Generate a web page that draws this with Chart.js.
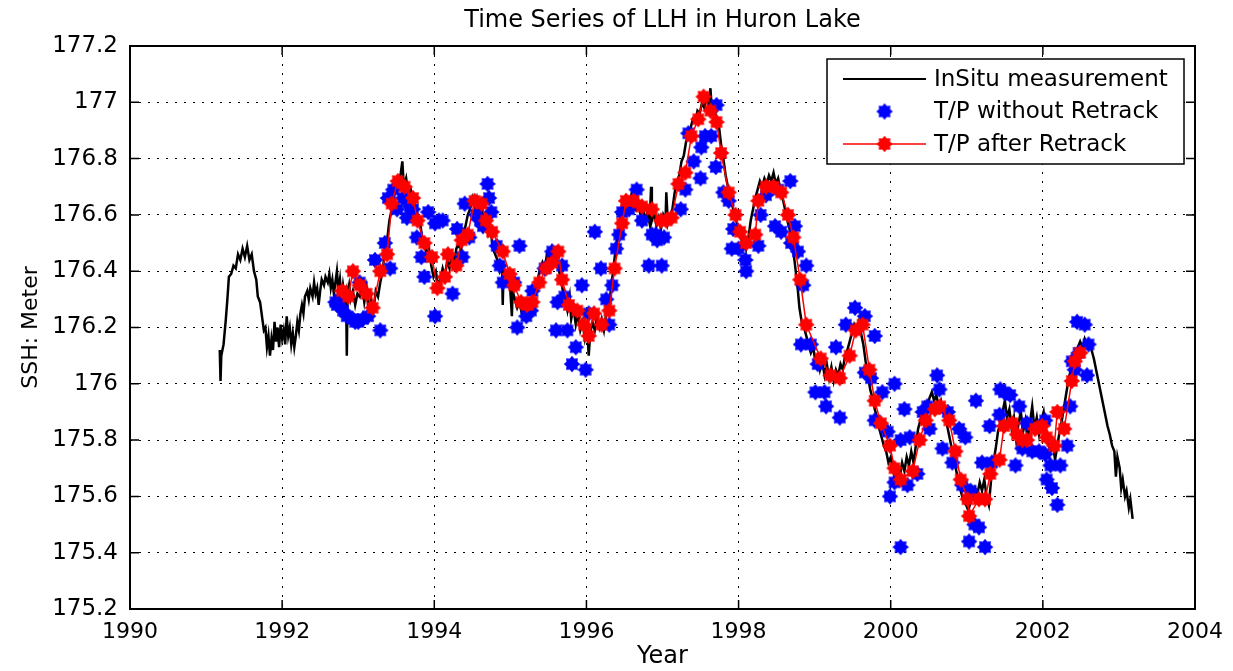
<!DOCTYPE html>
<html>
<head>
<meta charset="utf-8">
<title>Time Series of LLH in Huron Lake</title>
<script src="https://cdn.jsdelivr.net/npm/chart.js@4.4.0/dist/chart.umd.min.js"></script>
<style>
    html, body { margin: 0; padding: 0; background: #fff; }
    #wrap { width: 1233px; height: 671px; }
</style>
</head>
<body>
<div id="wrap"><canvas id="lakeChart"></canvas></div>
<script>
// Values: [decimal year, SSH in metres]
const inSitu = [
    [1991.18,176.12],[1991.19,176.01],[1991.20,176.10],[1991.23,176.14],[1991.26,176.23],[1991.28,176.30],
    [1991.30,176.38],[1991.33,176.39],[1991.36,176.42],[1991.39,176.41],[1991.42,176.46],[1991.45,176.44],
    [1991.48,176.48],[1991.51,176.45],[1991.54,176.49],[1991.57,176.44],[1991.60,176.46],[1991.63,176.40],
    [1991.66,176.37],[1991.68,176.31],[1991.71,176.29],[1991.74,176.23],[1991.76,176.19],[1991.78,176.20],
    [1991.80,176.13],[1991.82,176.17],[1991.84,176.10],[1991.86,176.16],[1991.88,176.12],[1991.90,176.22],
    [1991.92,176.15],[1991.94,176.20],[1991.96,176.13],[1991.98,176.21],[1992.00,176.16],[1992.02,176.19],
    [1992.04,176.14],[1992.06,176.24],[1992.08,176.17],[1992.10,176.20],[1992.12,176.14],[1992.14,176.18],
    [1992.16,176.13],[1992.18,176.17],[1992.20,176.22],[1992.22,176.19],[1992.24,176.25],[1992.26,176.28],
    [1992.28,176.25],[1992.30,176.31],[1992.33,176.33],[1992.35,176.30],[1992.37,176.34],[1992.40,176.31],
    [1992.42,176.36],[1992.44,176.32],[1992.46,176.34],[1992.48,176.28],[1992.50,176.33],[1992.52,176.37],
    [1992.55,176.35],[1992.57,176.38],[1992.60,176.36],[1992.62,176.39],[1992.64,176.34],[1992.66,176.37],
    [1992.68,176.32],[1992.70,176.36],[1992.72,176.40],[1992.74,176.33],[1992.76,176.37],[1992.78,176.30],
    [1992.80,176.35],[1992.82,176.31],[1992.84,176.33],[1992.85,176.10],[1992.86,176.32],[1992.88,176.35],
    [1992.90,176.30],[1992.93,176.33],[1992.96,176.28],[1992.99,176.32],[1993.02,176.31],[1993.05,176.35],
    [1993.08,176.29],[1993.11,176.34],[1993.14,176.25],[1993.17,176.30],[1993.20,176.26],[1993.23,176.33],
    [1993.26,176.31],[1993.29,176.36],[1993.32,176.40],[1993.35,176.47],[1993.38,176.51],[1993.41,176.58],
    [1993.44,176.62],[1993.47,176.66],[1993.50,176.72],[1993.53,176.70],[1993.56,176.75],[1993.58,176.79],
    [1993.60,176.70],[1993.63,176.73],[1993.66,176.67],[1993.69,176.69],[1993.72,176.64],[1993.75,176.62],
    [1993.78,176.57],[1993.81,176.58],[1993.84,176.52],[1993.87,176.50],[1993.90,176.46],[1993.93,176.48],
    [1993.96,176.42],[1993.99,176.38],[1994.02,176.40],[1994.05,176.35],[1994.08,176.37],[1994.11,176.41],
    [1994.14,176.38],[1994.17,176.44],[1994.20,176.41],[1994.23,176.46],[1994.26,176.43],[1994.29,176.48],
    [1994.32,176.50],[1994.35,176.47],[1994.38,176.53],[1994.41,176.56],[1994.44,176.60],[1994.47,176.62],
    [1994.50,176.66],[1994.53,176.63],[1994.56,176.66],[1994.59,176.62],[1994.62,176.64],[1994.65,176.58],
    [1994.68,176.57],[1994.71,176.53],[1994.74,176.55],[1994.77,176.48],[1994.80,176.46],[1994.83,176.44],
    [1994.86,176.40],[1994.89,176.42],[1994.90,176.28],[1994.91,176.40],[1994.94,176.36],[1994.97,176.38],
    [1995.00,176.33],[1995.02,176.24],[1995.03,176.33],[1995.06,176.30],[1995.09,176.27],[1995.12,176.29],
    [1995.15,176.25],[1995.18,176.28],[1995.21,176.24],[1995.24,176.29],[1995.27,176.27],[1995.30,176.32],
    [1995.33,176.35],[1995.36,176.37],[1995.39,176.41],[1995.42,176.43],[1995.45,176.40],[1995.48,176.46],
    [1995.51,176.44],[1995.54,176.48],[1995.57,176.45],[1995.60,176.46],[1995.63,176.41],[1995.66,176.38],
    [1995.69,176.33],[1995.72,176.30],[1995.75,176.26],[1995.78,176.31],[1995.80,176.23],[1995.83,176.27],
    [1995.86,176.21],[1995.89,176.25],[1995.92,176.19],[1995.95,176.22],[1995.98,176.16],[1996.01,176.20],
    [1996.03,176.10],[1996.05,176.18],[1996.08,176.22],[1996.11,176.19],[1996.14,176.24],[1996.17,176.20],
    [1996.20,176.23],[1996.23,176.19],[1996.26,176.25],[1996.29,176.27],[1996.32,176.33],[1996.35,176.40],
    [1996.38,176.47],[1996.41,176.53],[1996.44,176.58],[1996.47,176.62],[1996.50,176.64],[1996.53,176.66],
    [1996.56,176.63],[1996.59,176.67],[1996.62,176.64],[1996.65,176.62],[1996.68,176.65],[1996.71,176.60],
    [1996.74,176.63],[1996.77,176.58],[1996.80,176.61],[1996.83,176.57],[1996.85,176.70],[1996.86,176.58],
    [1996.89,176.61],[1996.92,176.56],[1996.95,176.59],[1996.98,176.55],[1997.01,176.60],[1997.04,176.58],
    [1997.05,176.68],[1997.07,176.57],[1997.10,176.60],[1997.13,176.62],[1997.16,176.68],[1997.19,176.72],
    [1997.22,176.74],[1997.25,176.79],[1997.28,176.81],[1997.31,176.86],[1997.34,176.88],[1997.37,176.91],
    [1997.40,176.94],[1997.43,176.93],[1997.46,176.97],[1997.49,176.96],[1997.52,177.00],[1997.55,176.98],
    [1997.58,177.02],[1997.61,176.99],[1997.63,177.05],[1997.65,176.97],[1997.68,176.98],[1997.71,176.94],
    [1997.74,176.92],[1997.77,176.85],[1997.80,176.80],[1997.83,176.74],[1997.86,176.70],[1997.89,176.66],
    [1997.92,176.63],[1997.95,176.60],[1997.98,176.57],[1998.01,176.55],[1998.04,176.51],[1998.07,176.53],
    [1998.10,176.48],[1998.13,176.52],[1998.16,176.58],[1998.19,176.62],[1998.22,176.66],[1998.25,176.69],
    [1998.28,176.72],[1998.31,176.70],[1998.34,176.73],[1998.37,176.71],[1998.40,176.74],[1998.43,176.72],
    [1998.46,176.75],[1998.49,176.71],[1998.52,176.73],[1998.55,176.69],[1998.58,176.66],[1998.61,176.62],
    [1998.64,176.58],[1998.67,176.55],[1998.70,176.50],[1998.73,176.45],[1998.76,176.38],[1998.78,176.33],
    [1998.80,176.27],[1998.83,176.22],[1998.86,176.20],[1998.89,176.17],[1998.92,176.14],[1998.95,176.11],
    [1998.98,176.13],[1999.01,176.08],[1999.04,176.10],[1999.07,176.05],[1999.10,176.08],[1999.13,176.03],
    [1999.16,176.07],[1999.19,176.02],[1999.22,176.06],[1999.25,176.01],[1999.28,176.05],[1999.31,176.03],
    [1999.34,176.07],[1999.37,176.05],[1999.40,176.10],[1999.43,176.12],[1999.46,176.15],[1999.49,176.18],
    [1999.52,176.21],[1999.55,176.19],[1999.58,176.22],[1999.61,176.18],[1999.64,176.14],[1999.67,176.08],
    [1999.70,176.03],[1999.73,175.98],[1999.76,175.95],[1999.79,175.91],[1999.82,175.88],[1999.85,175.84],
    [1999.88,175.81],[1999.91,175.78],[1999.94,175.76],[1999.97,175.72],[2000.00,175.74],[2000.03,175.69],
    [2000.06,175.66],[2000.09,175.70],[2000.12,175.67],[2000.15,175.72],[2000.18,175.69],[2000.21,175.74],
    [2000.24,175.71],[2000.27,175.76],[2000.30,175.72],[2000.33,175.78],[2000.36,175.84],[2000.39,175.87],
    [2000.42,175.90],[2000.45,175.93],[2000.48,175.91],[2000.51,175.95],[2000.54,175.97],[2000.57,175.94],
    [2000.60,175.96],[2000.63,175.92],[2000.66,175.94],[2000.69,175.90],[2000.72,175.88],[2000.75,175.84],
    [2000.78,175.80],[2000.81,175.76],[2000.84,175.72],[2000.87,175.68],[2000.90,175.64],[2000.93,175.61],
    [2000.96,175.58],[2000.99,175.57],[2001.02,175.55],[2001.05,175.58],[2001.08,175.60],[2001.11,175.63],
    [2001.14,175.61],[2001.17,175.65],[2001.20,175.62],[2001.23,175.66],[2001.26,175.60],[2001.29,175.57],
    [2001.32,175.66],[2001.35,175.72],[2001.38,175.77],[2001.41,175.83],[2001.44,175.86],[2001.47,175.90],
    [2001.50,175.94],[2001.53,175.88],[2001.56,175.91],[2001.59,175.84],[2001.62,175.88],[2001.65,175.80],
    [2001.68,175.86],[2001.71,175.90],[2001.74,175.83],[2001.77,175.87],[2001.80,175.80],[2001.83,175.86],
    [2001.86,175.92],[2001.89,175.84],[2001.92,175.88],[2001.95,175.82],[2001.98,175.87],[2002.01,175.90],
    [2002.04,175.83],[2002.07,175.79],[2002.10,175.76],[2002.13,175.79],[2002.16,175.73],[2002.19,175.78],
    [2002.22,175.83],[2002.25,175.87],[2002.28,175.92],[2002.31,175.97],[2002.34,176.02],[2002.37,176.05],
    [2002.40,176.09],[2002.43,176.11],[2002.46,176.13],[2002.49,176.15],[2002.52,176.13],[2002.55,176.16],
    [2002.58,176.14],[2002.61,176.15],[2002.64,176.12],[2002.67,176.09],[2002.70,176.05],[2002.73,176.01],
    [2002.76,175.97],[2002.79,175.93],[2002.82,175.89],[2002.85,175.85],[2002.88,175.82],[2002.91,175.78],
    [2002.94,175.76],[2002.96,175.67],[2002.98,175.74],[2003.01,175.70],[2003.03,175.63],[2003.05,175.66],
    [2003.08,175.60],[2003.10,175.62],[2003.13,175.56],[2003.15,175.59],[2003.18,175.52]
];

const tpWithoutRetrack = [
    [1992.70,176.29],[1992.72,176.28],[1992.76,176.30],[1992.80,176.26],[1992.85,176.24],[1992.93,176.23],
    [1992.96,176.22],[1993.00,176.22],[1993.02,176.36],[1993.06,176.23],[1993.13,176.24],[1993.22,176.44],
    [1993.29,176.19],[1993.35,176.50],[1993.39,176.66],[1993.42,176.41],[1993.46,176.69],[1993.51,176.62],
    [1993.59,176.66],[1993.64,176.59],[1993.68,176.63],[1993.72,176.62],[1993.77,176.52],[1993.83,176.45],
    [1993.87,176.38],[1993.92,176.61],[1994.01,176.57],[1994.01,176.24],[1994.06,176.58],[1994.11,176.58],
    [1994.24,176.32],[1994.30,176.55],[1994.37,176.45],[1994.40,176.64],[1994.46,176.52],[1994.55,176.60],
    [1994.60,176.58],[1994.64,176.56],[1994.70,176.71],[1994.72,176.66],[1994.75,176.61],[1994.82,176.49],
    [1994.86,176.42],[1994.90,176.36],[1995.05,176.36],[1995.09,176.20],[1995.12,176.49],[1995.21,176.24],
    [1995.27,176.26],[1995.29,176.33],[1995.45,176.41],[1995.55,176.47],[1995.60,176.19],[1995.62,176.29],
    [1995.68,176.42],[1995.71,176.31],[1995.75,176.19],[1995.81,176.07],[1995.86,176.13],[1995.94,176.35],
    [1995.99,176.05],[1996.03,176.25],[1996.11,176.54],[1996.19,176.41],[1996.26,176.30],[1996.30,176.21],
    [1996.34,176.35],[1996.39,176.48],[1996.43,176.53],[1996.47,176.61],[1996.56,176.62],[1996.66,176.69],
    [1996.73,176.58],[1996.82,176.42],[1996.86,176.53],[1996.91,176.53],[1996.93,176.51],[1996.99,176.42],
    [1997.02,176.52],[1997.24,176.62],[1997.30,176.69],[1997.34,176.89],[1997.41,176.79],[1997.50,176.73],
    [1997.51,176.84],[1997.56,176.88],[1997.64,176.88],[1997.70,176.77],[1997.71,176.99],[1997.80,176.68],
    [1997.87,176.65],[1997.91,176.48],[1997.93,176.55],[1998.00,176.48],[1998.09,176.44],[1998.10,176.40],
    [1998.26,176.49],[1998.29,176.60],[1998.36,176.67],[1998.48,176.56],[1998.52,176.69],[1998.56,176.54],
    [1998.68,176.72],[1998.69,176.50],[1998.74,176.56],[1998.78,176.47],[1998.85,176.35],[1998.89,176.42],
    [1998.82,176.14],[1998.95,176.14],[1999.01,175.97],[1999.04,176.07],[1999.13,175.97],[1999.15,175.92],
    [1999.28,176.13],[1999.33,175.88],[1999.41,176.21],[1999.53,176.27],[1999.66,176.24],[1999.66,176.04],
    [1999.74,176.02],[1999.79,176.17],[1999.79,175.87],[1999.89,175.97],[1999.96,175.83],[1999.99,175.60],
    [2000.05,176.00],[2000.05,175.65],[2000.13,175.80],[2000.13,175.42],[2000.18,175.91],[2000.22,175.64],
    [2000.25,175.81],[2000.35,175.68],[2000.42,175.90],[2000.48,175.92],[2000.51,175.84],[2000.61,176.03],
    [2000.64,175.98],[2000.68,175.77],[2000.75,175.90],[2000.81,175.72],[2000.90,175.84],[2000.94,175.64],
    [2000.98,175.81],[2001.03,175.44],[2001.05,175.62],[2001.10,175.50],[2001.12,175.94],[2001.16,175.49],
    [2001.20,175.72],[2001.24,175.42],[2001.30,175.85],[2001.33,175.72],[2001.43,175.89],[2001.44,175.98],
    [2001.49,175.97],[2001.57,175.96],[2001.64,175.71],[2001.69,175.92],[2001.73,175.77],[2001.79,175.86],
    [2001.86,175.76],[2001.95,175.76],[2002.03,175.87],[2002.03,175.75],[2002.05,175.66],[2002.10,175.71],
    [2002.12,175.63],[2002.19,175.57],[2002.23,175.71],[2002.32,175.78],[2002.36,175.92],[2002.38,176.08],
    [2002.42,176.05],[2002.45,176.22],[2002.47,176.11],[2002.55,176.21],[2002.58,176.03],[2002.60,176.14]
];

const tpAfterRetrack = [
    [1992.79,176.33],[1992.87,176.31],[1992.93,176.40],[1993.02,176.35],[1993.11,176.32],[1993.19,176.27],
    [1993.29,176.40],[1993.38,176.46],[1993.44,176.64],[1993.52,176.72],[1993.61,176.70],[1993.72,176.66],
    [1993.78,176.58],[1993.87,176.50],[1993.97,176.45],[1994.04,176.34],[1994.14,176.38],[1994.18,176.46],
    [1994.29,176.42],[1994.36,176.51],[1994.44,176.53],[1994.53,176.65],[1994.62,176.64],[1994.68,176.58],
    [1994.76,176.54],[1994.90,176.47],[1994.99,176.39],[1995.05,176.35],[1995.14,176.29],[1995.22,176.28],
    [1995.29,176.29],[1995.38,176.36],[1995.47,176.41],[1995.55,176.43],[1995.63,176.47],[1995.68,176.37],
    [1995.77,176.28],[1995.88,176.26],[1995.97,176.21],[1996.03,176.17],[1996.10,176.25],[1996.20,176.21],
    [1996.30,176.26],[1996.37,176.41],[1996.47,176.57],[1996.52,176.65],[1996.62,176.65],[1996.73,176.63],
    [1996.86,176.62],[1996.98,176.58],[1997.05,176.58],[1997.12,176.59],[1997.21,176.71],[1997.30,176.75],
    [1997.38,176.88],[1997.47,176.94],[1997.54,177.02],[1997.63,176.97],[1997.71,176.93],[1997.77,176.82],
    [1997.87,176.68],[1997.96,176.60],[1998.02,176.54],[1998.10,176.50],[1998.22,176.53],[1998.26,176.65],
    [1998.36,176.70],[1998.46,176.70],[1998.56,176.68],[1998.65,176.60],[1998.72,176.52],[1998.81,176.37],
    [1998.89,176.21],[1999.08,176.09],[1999.21,176.03],[1999.33,176.02],[1999.46,176.10],[1999.54,176.19],
    [1999.63,176.21],[1999.72,176.05],[1999.79,175.94],[1999.87,175.86],[1999.99,175.78],[2000.05,175.70],
    [2000.13,175.66],[2000.29,175.69],[2000.38,175.80],[2000.46,175.87],[2000.58,175.91],[2000.65,175.92],
    [2000.77,175.87],[2000.85,175.76],[2000.92,175.66],[2001.01,175.59],[2001.03,175.53],[2001.16,175.59],
    [2001.24,175.59],[2001.31,175.68],[2001.43,175.73],[2001.49,175.85],[2001.60,175.86],[2001.66,175.82],
    [2001.73,175.80],[2001.79,175.80],[2001.90,175.84],[2001.99,175.85],[2002.05,175.81],[2002.15,175.78],
    [2002.19,175.90],[2002.28,175.84],[2002.38,176.01],[2002.42,176.08],[2002.49,176.11]
];

const seriesLabels = ['InSitu measurement', 'T/P without Retrack', 'T/P after Retrack'];
const chartTitle = 'Time Series of LLH in Huron Lake';
const xTitle = 'Year';
const yTitle = 'SSH: Meter';

const FONT = "'DejaVu Sans', sans-serif";
Chart.defaults.font.family = FONT;
Chart.defaults.color = '#000';

// Filled 8-point star, looks like the matlab '*' blob
function makeStarMarker(color) {
    const c = document.createElement('canvas');
    c.width = 18;
    c.height = 18;
    const g = c.getContext('2d');
    g.fillStyle = color;
    g.beginPath();
    for (let i = 0; i < 16; i++) {
        const r = i % 2 === 0 ? 8.3 : 6.0;
        const a = -Math.PI / 2 + i * Math.PI / 8;
        const px = 9 + r * Math.cos(a);
        const py = 9 + r * Math.sin(a);
        if (i === 0) g.moveTo(px, py); else g.lineTo(px, py);
    }
    g.closePath();
    g.fill();
    return c;
}

const blueStar = makeStarMarker('#0000ff');
const redStar = makeStarMarker('#ff0000');

function toPoints(arr) {
    return arr.map(p => ({ x: p[0], y: p[1] }));
}

// Frame round the axes with inward ticks on all four sides
const axesFrame = {
    id: 'axesFrame',
    afterDatasetsDraw(chart) {
        const { ctx, chartArea: a, scales } = chart;
        const tick = 9;
        ctx.save();
        ctx.strokeStyle = '#000';
        ctx.lineWidth = 1.5;
        ctx.beginPath();
        scales.x.ticks.forEach(t => {
            const px = scales.x.getPixelForValue(t.value);
            ctx.moveTo(px, a.bottom); ctx.lineTo(px, a.bottom - tick);
            ctx.moveTo(px, a.top); ctx.lineTo(px, a.top + tick);
        });
        scales.y.ticks.forEach(t => {
            const py = scales.y.getPixelForValue(t.value);
            ctx.moveTo(a.left, py); ctx.lineTo(a.left + tick, py);
            ctx.moveTo(a.right, py); ctx.lineTo(a.right - tick, py);
        });
        ctx.stroke();
        ctx.lineWidth = 2;
        ctx.strokeRect(a.left, a.top, a.right - a.left, a.bottom - a.top);
        ctx.restore();
    }
};

// Boxed legend in the upper right corner of the axes
const boxLegend = {
    id: 'boxLegend',
    afterDraw(chart) {
        const { ctx, chartArea: a } = chart;
        const ds = chart.data.datasets;
        const left = a.right - 368;
        const top = a.top + 13;
        const w = 357, h = 105;
        ctx.save();
        ctx.fillStyle = '#fff';
        ctx.fillRect(left, top, w, h);
        ctx.strokeStyle = '#000';
        ctx.lineWidth = 1.5;
        ctx.strokeRect(left, top, w, h);

        ctx.font = '23px ' + FONT;
        ctx.textBaseline = 'middle';
        ctx.textAlign = 'left';
        ds.forEach((d, i) => {
            const ry = top + 20 + i * 32.5;
            const x0 = left + 16, x1 = left + 99, xm = (x0 + x1) / 2;
            if (d.showLine) {
                ctx.strokeStyle = d.borderColor;
                ctx.lineWidth = Math.min(d.borderWidth, 2);
                ctx.beginPath();
                ctx.moveTo(x0, ry);
                ctx.lineTo(x1, ry);
                ctx.stroke();
            }
            if (d.pointStyle instanceof HTMLCanvasElement) {
                ctx.drawImage(d.pointStyle, xm - 9, ry - 9);
            }
            ctx.fillStyle = '#000';
            ctx.fillText(d.label, left + 107, ry + 1);
        });
        ctx.restore();
    }
};

function initLakeChart() {
    new Chart(document.getElementById('lakeChart'), {
        type: 'scatter',
        data: {
            datasets: [
                {
                    label: seriesLabels[0],
                    data: toPoints(inSitu),
                    showLine: true,
                    borderColor: '#000',
                    borderWidth: 2.5,
                    pointRadius: 0,
                    order: 3
                },
                {
                    label: seriesLabels[1],
                    data: toPoints(tpWithoutRetrack),
                    showLine: false,
                    pointStyle: blueStar,
                    borderColor: '#0000ff',
                    backgroundColor: '#0000ff',
                    order: 2
                },
                {
                    label: seriesLabels[2],
                    data: toPoints(tpAfterRetrack),
                    showLine: true,
                    borderColor: '#ff0000',
                    backgroundColor: '#ff0000',
                    borderWidth: 1.5,
                    pointStyle: redStar,
                    order: 1
                }
            ]
        },
        options: {
            responsive: true,
            maintainAspectRatio: false,
            animation: false,
            layout: { padding: { left: 0, right: 32, top: 0, bottom: 0 } },
            plugins: {
                legend: { display: false },
                tooltip: { enabled: false },
                title: {
                    display: true,
                    text: chartTitle,
                    fullSize: false,
                    color: '#000',
                    font: { family: FONT, size: 24, weight: 'normal' },
                    padding: { top: 6, bottom: 11.2 }
                }
            },
            scales: {
                x: {
                    type: 'linear',
                    min: 1990,
                    max: 2004,
                    afterFit: s => { s.height = 62; },
                    ticks: {
                        stepSize: 2,
                        padding: 10,
                        maxRotation: 0,
                        color: '#000',
                        font: { size: 22 },
                        callback: v => String(v)
                    },
                    grid: { color: '#000', lineWidth: 1, drawTicks: false },
                    border: { display: false, dash: [2, 7] },
                    title: {
                        display: true,
                        text: xTitle,
                        color: '#000',
                        font: { size: 24 },
                        padding: { top: 0, bottom: 0 }
                    }
                },
                y: {
                    min: 175.2,
                    max: 177.2,
                    afterFit: s => { s.width = 130; },
                    ticks: {
                        stepSize: 0.2,
                        padding: 12,
                        color: '#000',
                        font: { size: 23 },
                        callback: v => String(parseFloat(v.toFixed(1)))
                    },
                    grid: { color: '#000', lineWidth: 1, drawTicks: false },
                    border: { display: false, dash: [2, 7] },
                    title: {
                        display: true,
                        text: yTitle,
                        color: '#000',
                        font: { size: 22 },
                        padding: { top: 18, bottom: 0 }
                    }
                }
            }
        },
        plugins: [axesFrame, boxLegend]
    });
}

initLakeChart();
</script>
</body>
</html>
